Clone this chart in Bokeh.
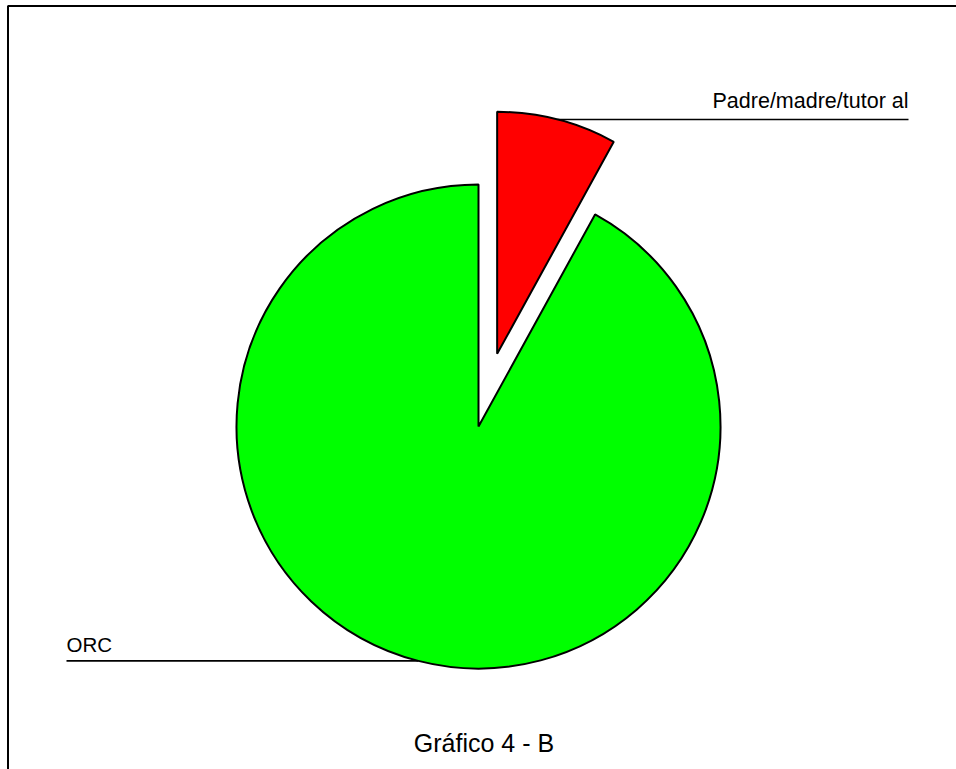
import math
from bokeh.plotting import figure
from bokeh.models import Range1d
from bokeh.core.properties import value
from bokeh.embed import file_html
from bokeh.resources import INLINE

# Data
categories = ["Padre/madre/tutor al", "ORC"]
values = [8, 92]
colors = ["#ff0000", "#00ff00"]
title_text = "Gráfico 4 - B"

# Layout: data x = screen x, data y = 769 - screen y
W, H = 956, 769
p = figure(width=W, height=H, output_backend="svg", toolbar_location=None,
           x_range=Range1d(0, W), y_range=Range1d(769 - H, 769),
           min_border=0, margin=(0, -8, -8, 0))
p.axis.visible = False
p.grid.visible = False
p.outline_line_color = None
p.background_fill_color = "white"
p.border_fill_color = "white"

def Y(py):
    return 769 - py

# frame: box whose right and bottom edges lie outside the view
p.quad(left=[7.5], right=[W + 50], top=[Y(5.5)], bottom=[-50],
       fill_color=None, line_color="black", line_width=2)

cx, cy = 478, Y(426)
R = 242
explode = 75

total = sum(values)
angle = math.pi / 2  # start at 12 o'clock, going clockwise
for cat, v, col in zip(categories, values, colors):
    sweep = 2 * math.pi * v / total
    end = angle
    start = angle - sweep
    mid = (start + end) / 2
    ox = cx + (explode * math.cos(mid) if cat != "ORC" else 0)
    oy = cy + (explode * math.sin(mid) if cat != "ORC" else 0)
    lx = ox + R * math.cos(mid)
    ly = oy + R * math.sin(mid)
    if cat == "ORC":
        p.line([66, lx], [ly, ly], line_color="black", line_width=1.6)
        p.text([66], [ly + 16], text=[cat], text_font=value("Liberation Sans"),
               text_font_size="20.5px", text_align="left", text_baseline="alphabetic",
               text_color="black")
    else:
        p.line([lx, 908], [ly, ly], line_color="black", line_width=1.6)
        p.text([908], [ly + 18], text=[cat], text_font=value("Liberation Sans"),
               text_font_size="21.5px", text_align="right", text_baseline="alphabetic",
               text_color="black")
    p.wedge(x=ox, y=oy, radius=R, start_angle=start, end_angle=end,
            direction="anticlock", fill_color=col, line_color="black", line_width=2)
    angle = start

p.text([483.5], [Y(742)], text=[title_text], text_font=value("Liberation Sans"),
       text_font_size="25px", text_align="center", text_baseline="alphabetic",
       text_color="black")

open("out.html", "w").write(file_html(p, INLINE))
